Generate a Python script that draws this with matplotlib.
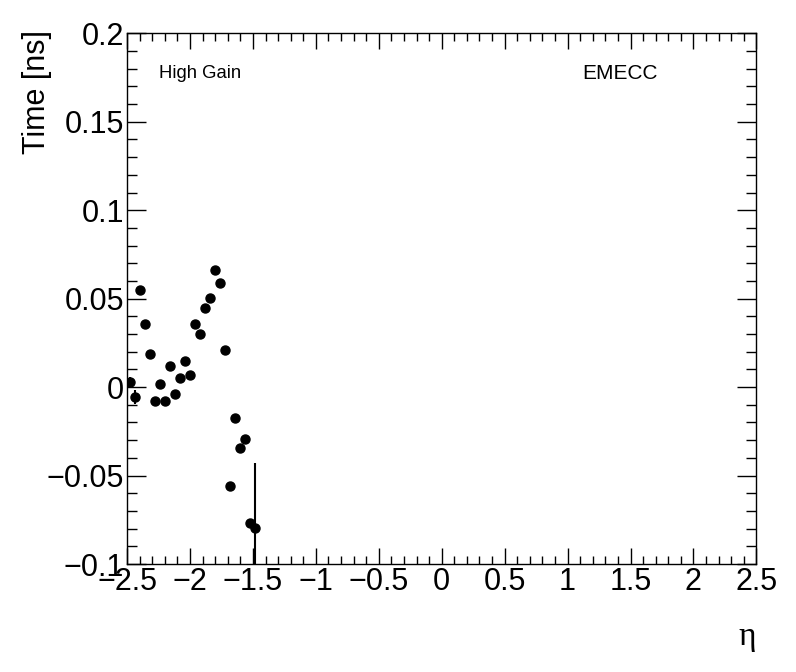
import matplotlib
matplotlib.use("Agg")
import matplotlib.pyplot as plt
from matplotlib.ticker import MultipleLocator, FuncFormatter

plt.rcParams['font.family'] = ['Liberation Sans', 'DejaVu Sans']

eta = [-2.48, -2.44, -2.40, -2.36, -2.32, -2.28, -2.24, -2.20, -2.16, -2.12,
       -2.08, -2.04, -2.00, -1.96, -1.92, -1.88, -1.84, -1.80, -1.76, -1.72,
       -1.68, -1.64, -1.60, -1.56, -1.52, -1.48]
time_ns = [0.0028, -0.0057, 0.0547, 0.0358, 0.0185, -0.0081, 0.0019, -0.0081, 0.0117, -0.0041,
           0.0053, 0.0145, 0.0070, 0.0358, 0.0302, 0.0449, 0.0505, 0.0664, 0.0590, 0.0211,
           -0.0557, -0.0173, -0.0343, -0.0292, -0.0767, -0.0797]
time_err = [0.003, 0.004, 0.001, 0.001, 0.001, 0.001, 0.001, 0.001, 0.001, 0.001,
            0.001, 0.001, 0.001, 0.001, 0.001, 0.001, 0.001, 0.001, 0.001, 0.001,
            0.001, 0.001, 0.001, 0.001, 0.002, 0.037]

fig = plt.figure(figsize=(7.96, 6.72), dpi=100)
ax = fig.add_axes([0.1597, 0.1607, 0.7905, 0.7897])

ax.errorbar(eta, time_ns, yerr=time_err, fmt='o', color='black', markersize=6.5,
            elinewidth=1.5, capsize=0, zorder=3)

ax.set_xlim(-2.5, 2.5)
ax.set_ylim(-0.1, 0.2)

ax.xaxis.set_major_locator(MultipleLocator(0.5))
ax.xaxis.set_minor_locator(MultipleLocator(0.1))
ax.yaxis.set_major_locator(MultipleLocator(0.05))
ax.yaxis.set_minor_locator(MultipleLocator(0.01))

def fmt(v, pos):
    s = ('%g' % round(v, 6))
    if s == '-0':
        s = '0'
    return s.replace('-', '\u2212')

ax.xaxis.set_major_formatter(FuncFormatter(fmt))
ax.yaxis.set_major_formatter(FuncFormatter(fmt))

ax.tick_params(axis='x', which='major', direction='in', length=11.5, width=1,
               top=True, bottom=True, labelsize=22, pad=2)
ax.tick_params(axis='x', which='minor', direction='in', length=5.8, width=1,
               top=True, bottom=True)
ax.tick_params(axis='y', which='major', direction='in', length=13.7, width=1,
               left=True, right=True, labelsize=22, pad=2)
ax.tick_params(axis='y', which='minor', direction='in', length=7, width=1,
               left=True, right=True)
for sp in ax.spines.values():
    sp.set_linewidth(1)

ax.set_ylabel('Time [ns]', fontsize=22, loc='top')
ax.yaxis.set_label_coords(-0.120, 1.006)
fig.text(0.950, 0.030, '\u03b7', fontsize=24, ha='right', va='bottom',
         family='Liberation Serif')

ax.text(0.051, 0.925, 'High Gain', transform=ax.transAxes, fontsize=13.3,
        ha='left', va='center')
ax.text(0.723, 0.925, 'EMECC', transform=ax.transAxes, fontsize=15,
        ha='left', va='center')

fig.savefig('out.png', dpi=100)
